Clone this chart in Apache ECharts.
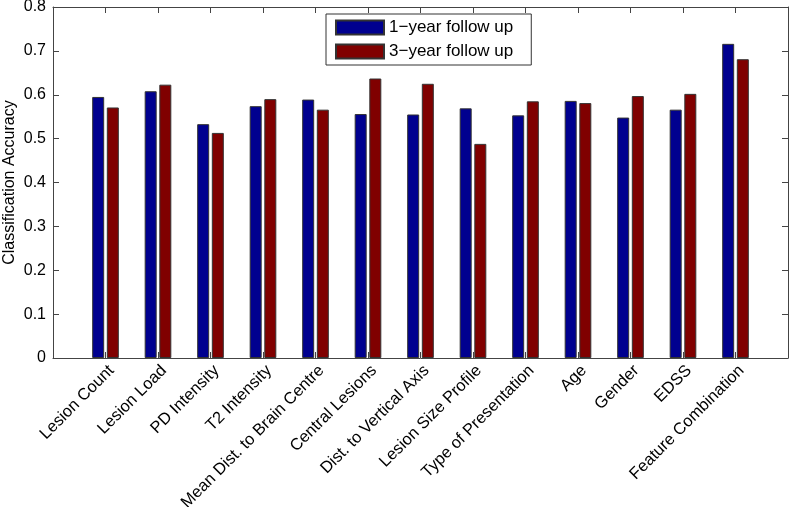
<!DOCTYPE html>
<html>
<head>
<meta charset="utf-8">
<script src="https://cdn.jsdelivr.net/npm/echarts@6/dist/echarts.min.js"></script>
<style>html,body{margin:0;padding:0;background:#fff}#c{width:791px;height:507px}</style>
</head>
<body>
<div id="c"></div>
<script>
const categories = ['Lesion Count','Lesion Load','PD Intensity','T2 Intensity','Mean Dist. to Brain Centre','Central Lesions','Dist. to Vertical Axis','Lesion Size Profile','Type of Presentation','Age','Gender','EDSS','Feature Combination'];
const oneYear = [0.595,0.608,0.533,0.574,0.589,0.556,0.555,0.569,0.553,0.586,0.548,0.566,0.716];
const threeYear = [0.571,0.623,0.513,0.590,0.566,0.637,0.625,0.488,0.585,0.581,0.597,0.602,0.681];
const seriesNames = ['1\u2212year follow up','3\u2212year follow up'];
const yTicks = {min:0, max:0.8, interval:0.1};

// pad categories so the axis spans 0..14 like the original
const xData = [''].concat(categories, ['']);
const pad = v => [null].concat(v, [null]);

const font = 'Liberation Sans, Arial, Helvetica, sans-serif';
const axisColor = '#444';
const tickShow = (i) => i > 0 && i < xData.length - 1;
const chart = echarts.init(document.getElementById('c'));
chart.setOption({
  animation: false,
  backgroundColor: '#fff',
  textStyle: {fontFamily: font, color: '#000'},
  grid: {left: 53, right: 3, top: 7, bottom: 149, containLabel: false, outerBoundsMode: 'none'},
  legend: {
    orient: 'vertical', left: 326, top: 14,
    itemWidth: 48, itemHeight: 14, itemGap: 7,
    padding: [5, 18, 5, 9],
    borderColor: '#333', borderWidth: 1, backgroundColor: '#fff',
    textStyle: {fontFamily: font, fontSize: 17, color: '#000'},
    icon: 'rect',
    data: seriesNames
  },
  xAxis: [{
    type: 'category', data: xData, boundaryGap: false, position: 'bottom',
    axisLine: {onZero: false, lineStyle: {color: axisColor, width: 1}},
    axisTick: {inside: true, length: 6, lineStyle: {color: axisColor}, interval: tickShow},
    axisLabel: {rotate: 45, fontSize: 16.5, color: '#000', fontFamily: font, margin: 4, interval: 0, verticalAlign: 'top'},
    splitLine: {show: false}
  }, {
    type: 'category', data: xData, boundaryGap: false, position: 'top',
    axisLine: {onZero: false, lineStyle: {color: axisColor, width: 1}},
    axisTick: {inside: true, length: 6, lineStyle: {color: axisColor}, interval: tickShow},
    axisLabel: {show: false}, splitLine: {show: false}
  }],
  yAxis: [{
    type: 'value', min: yTicks.min, max: yTicks.max, interval: yTicks.interval, position: 'left',
    name: 'Classification Accuracy', nameLocation: 'middle', nameGap: 35, nameMoveOverlap: false,
    nameTextStyle: {fontSize: 16, color: '#000', fontFamily: font},
    axisLine: {show: true, onZero: false, lineStyle: {color: axisColor, width: 1}},
    axisTick: {show: true, inside: true, length: 6, lineStyle: {color: axisColor}},
    axisLabel: {fontSize: 16, color: '#000', fontFamily: font, margin: 7, formatter: v => String(Math.round(v*10)/10)},
    splitLine: {show: false}
  }, {
    type: 'value', min: yTicks.min, max: yTicks.max, interval: yTicks.interval, position: 'right',
    axisLine: {show: true, onZero: false, lineStyle: {color: axisColor, width: 1}},
    axisTick: {show: true, inside: true, length: 6, lineStyle: {color: axisColor}},
    axisLabel: {show: false}, splitLine: {show: false}
  }],
  series: [{
    name: seriesNames[0], type: 'bar', data: pad(oneYear), xAxisIndex: 0, yAxisIndex: 0,
    barWidth: 12, barGap: '22%',
    itemStyle: {color: '#00008F', borderColor: '#333', borderWidth: 1}
  }, {
    name: seriesNames[1], type: 'bar', data: pad(threeYear), xAxisIndex: 0, yAxisIndex: 0,
    barWidth: 12, barGap: '22%',
    itemStyle: {color: '#800000', borderColor: '#333', borderWidth: 1}
  }]
});
</script>
</body>
</html>
